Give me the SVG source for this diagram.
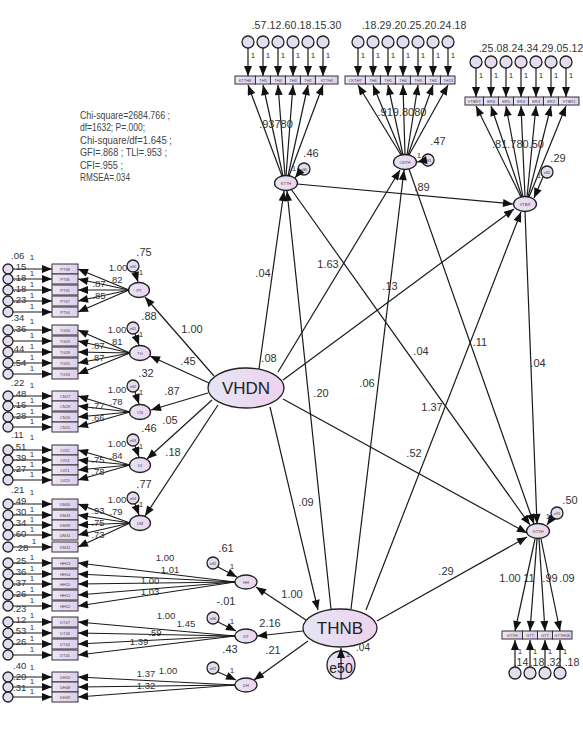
<svg xmlns="http://www.w3.org/2000/svg" width="583" height="732" viewBox="0 0 583 732">
<defs>
<marker id="a" viewBox="0 0 10 8" refX="10" refY="4" markerWidth="11" markerHeight="8" markerUnits="userSpaceOnUse" orient="auto"><path d="M0,0L10,4L0,8z" fill="#111"/></marker>
<linearGradient id="g" x1="0" x2="1"><stop offset="0" stop-color="#e4e6f4"/><stop offset="1" stop-color="#eed2ef"/></linearGradient>
<linearGradient id="b" x1="0" x2="1"><stop offset="0" stop-color="#eee8f7"/><stop offset="1" stop-color="#dccdee"/></linearGradient>
</defs>
<style>
.l{stroke:#1a1a1a;stroke-width:1.2;fill:none;marker-end:url(#a)}
.bx{fill:url(#b);stroke:#333;stroke-width:1}
.lv{fill:url(#g);stroke:#222;stroke-width:1.3}
.er{fill:#e4dcef;stroke:#222;stroke-width:1.3}
text{font-family:"Liberation Sans",Arial,sans-serif;fill:#333}
.t{font-size:11px;text-anchor:middle}
.u{font-size:9.5px;text-anchor:middle}
.v{font-size:9.5px}
.s{font-size:8px;text-anchor:middle}
.x{font-size:4px;text-anchor:middle;fill:#444}
.st{font-size:11.5px;fill:#444}
.big{font-size:17px;text-anchor:middle;fill:#222}
</style>
<rect width="583" height="732" fill="#fff"/>

<g id="stats">
<text class="st" x="80" y="119" textLength="90" lengthAdjust="spacingAndGlyphs">Chi-square=2684.766 ;</text>
<text class="st" x="80" y="131" textLength="65" lengthAdjust="spacingAndGlyphs">df=1632; P=.000;</text>
<text class="st" x="80" y="144" textLength="92" lengthAdjust="spacingAndGlyphs">Chi-square/df=1.645 ;</text>
<text class="st" x="80" y="156" textLength="87" lengthAdjust="spacingAndGlyphs">GFI=.868 ; TLI=.953 ;</text>
<text class="st" x="80" y="169" textLength="43" lengthAdjust="spacingAndGlyphs">CFI=.955 ;</text>
<text class="st" x="80" y="181" textLength="50" lengthAdjust="spacingAndGlyphs">RMSEA=.034</text>
</g>

<!-- left indicators -->
<g id="PT38"><circle class="er" cx="8" cy="269" r="5"/><rect class="bx" x="52" y="264" width="26" height="10"/><text class="x" x="65" y="270.5">PT38</text></g>
<g id="PT36"><circle class="er" cx="8" cy="279" r="5"/><rect class="bx" x="52" y="274" width="26" height="10"/><text class="x" x="65" y="280.5">PT36</text></g>
<g id="PT35"><circle class="er" cx="8" cy="290" r="5"/><rect class="bx" x="52" y="285" width="26" height="10"/><text class="x" x="65" y="291.5">PT35</text></g>
<g id="PT37"><circle class="er" cx="8" cy="301" r="5"/><rect class="bx" x="52" y="296" width="26" height="10"/><text class="x" x="65" y="302.5">PT37</text></g>
<g id="PT34"><circle class="er" cx="8" cy="312" r="5"/><rect class="bx" x="52" y="307" width="26" height="10"/><text class="x" x="65" y="313.5">PT34</text></g>
<g id="TG30"><circle class="er" cx="8" cy="330" r="5"/><rect class="bx" x="52" y="325" width="26" height="10"/><text class="x" x="65" y="331.5">TG30</text></g>
<g id="TG29"><circle class="er" cx="8" cy="341" r="5"/><rect class="bx" x="52" y="336" width="26" height="10"/><text class="x" x="65" y="342.5">TG29</text></g>
<g id="TG28"><circle class="er" cx="8" cy="352" r="5"/><rect class="bx" x="52" y="347" width="26" height="10"/><text class="x" x="65" y="353.5">TG28</text></g>
<g id="TG31"><circle class="er" cx="8" cy="363" r="5"/><rect class="bx" x="52" y="358" width="26" height="10"/><text class="x" x="65" y="364.5">TG31</text></g>
<g id="TG33"><circle class="er" cx="8" cy="374" r="5"/><rect class="bx" x="52" y="369" width="26" height="10"/><text class="x" x="65" y="375.5">TG33</text></g>
<g id="CN27"><circle class="er" cx="8" cy="396" r="5"/><rect class="bx" x="52" y="391" width="26" height="10"/><text class="x" x="65" y="397.5">CN27</text></g>
<g id="CN28"><circle class="er" cx="8" cy="406" r="5"/><rect class="bx" x="52" y="401" width="26" height="10"/><text class="x" x="65" y="407.5">CN28</text></g>
<g id="CN26"><circle class="er" cx="8" cy="417" r="5"/><rect class="bx" x="52" y="412" width="26" height="10"/><text class="x" x="65" y="418.5">CN26</text></g>
<g id="CN25"><circle class="er" cx="8" cy="427" r="5"/><rect class="bx" x="52" y="422" width="26" height="10"/><text class="x" x="65" y="428.5">CN25</text></g>
<g id="LV22"><circle class="er" cx="8" cy="450" r="5"/><rect class="bx" x="52" y="445" width="26" height="10"/><text class="x" x="65" y="451.5">LV22</text></g>
<g id="LV24"><circle class="er" cx="8" cy="460" r="5"/><rect class="bx" x="52" y="455" width="26" height="10"/><text class="x" x="65" y="461.5">LV24</text></g>
<g id="LV21"><circle class="er" cx="8" cy="470" r="5"/><rect class="bx" x="52" y="465" width="26" height="10"/><text class="x" x="65" y="471.5">LV21</text></g>
<g id="LV23"><circle class="er" cx="8" cy="480" r="5"/><rect class="bx" x="52" y="475" width="26" height="10"/><text class="x" x="65" y="481.5">LV23</text></g>
<g id="DM40"><circle class="er" cx="8" cy="504" r="5"/><rect class="bx" x="52" y="499" width="26" height="10"/><text class="x" x="65" y="505.5">DM40</text></g>
<g id="DM43"><circle class="er" cx="8" cy="515" r="5"/><rect class="bx" x="52" y="510" width="26" height="10"/><text class="x" x="65" y="516.5">DM43</text></g>
<g id="DM39"><circle class="er" cx="8" cy="525" r="5"/><rect class="bx" x="52" y="520" width="26" height="10"/><text class="x" x="65" y="526.5">DM39</text></g>
<g id="DM41"><circle class="er" cx="8" cy="535" r="5"/><rect class="bx" x="52" y="530" width="26" height="10"/><text class="x" x="65" y="536.5">DM41</text></g>
<g id="DM42"><circle class="er" cx="8" cy="547" r="5"/><rect class="bx" x="52" y="542" width="26" height="10"/><text class="x" x="65" y="548.5">DM42</text></g>
<g id="HH53"><circle class="er" cx="8" cy="563" r="5"/><rect class="bx" x="52" y="558" width="26" height="10"/><text class="x" x="65" y="564.5">HH53</text></g>
<g id="HH54"><circle class="er" cx="8" cy="574" r="5"/><rect class="bx" x="52" y="569" width="26" height="10"/><text class="x" x="65" y="575.5">HH54</text></g>
<g id="HH55"><circle class="er" cx="8" cy="584" r="5"/><rect class="bx" x="52" y="579" width="26" height="10"/><text class="x" x="65" y="585.5">HH55</text></g>
<g id="HH51"><circle class="er" cx="8" cy="595" r="5"/><rect class="bx" x="52" y="590" width="26" height="10"/><text class="x" x="65" y="596.5">HH51</text></g>
<g id="HH52"><circle class="er" cx="8" cy="606" r="5"/><rect class="bx" x="52" y="601" width="26" height="10"/><text class="x" x="65" y="607.5">HH52</text></g>
<g id="DT47"><circle class="er" cx="8" cy="622" r="5"/><rect class="bx" x="52" y="617" width="26" height="10"/><text class="x" x="65" y="623.5">DT47</text></g>
<g id="DT46"><circle class="er" cx="8" cy="633" r="5"/><rect class="bx" x="52" y="628" width="26" height="10"/><text class="x" x="65" y="634.5">DT46</text></g>
<g id="DT44"><circle class="er" cx="8" cy="644" r="5"/><rect class="bx" x="52" y="639" width="26" height="10"/><text class="x" x="65" y="645.5">DT44</text></g>
<g id="DT45"><circle class="er" cx="8" cy="655" r="5"/><rect class="bx" x="52" y="650" width="26" height="10"/><text class="x" x="65" y="656.5">DT45</text></g>
<g id="DH50"><circle class="er" cx="8" cy="677" r="5"/><rect class="bx" x="52" y="672" width="26" height="10"/><text class="x" x="65" y="678.5">DH50</text></g>
<g id="DH48"><circle class="er" cx="8" cy="687" r="5"/><rect class="bx" x="52" y="682" width="26" height="10"/><text class="x" x="65" y="688.5">DH48</text></g>
<g id="DH49"><circle class="er" cx="8" cy="697" r="5"/><rect class="bx" x="52" y="692" width="26" height="10"/><text class="x" x="65" y="698.5">DH49</text></g>

<!-- top indicators -->
<g id="KTTH-items">
<circle class="er" cx="248" cy="42" r="6"/><circle class="er" cx="263" cy="42" r="6"/><circle class="er" cx="278" cy="42" r="6"/><circle class="er" cx="293" cy="42" r="6"/><circle class="er" cx="308" cy="42" r="6"/><circle class="er" cx="323" cy="42" r="6"/>
<rect class="bx" x="235" y="76" width="20.5" height="8"/><rect class="bx" x="255.5" y="76" width="15" height="8"/><rect class="bx" x="270.5" y="76" width="15" height="8"/><rect class="bx" x="285.5" y="76" width="15" height="8"/><rect class="bx" x="300.5" y="76" width="15" height="8"/><rect class="bx" x="315.5" y="76" width="22.5" height="8"/>
<text class="x" x="245" y="81.5">KTTH6</text><text class="x" x="263" y="81.5">TH5</text><text class="x" x="278" y="81.5">TH4</text><text class="x" x="293" y="81.5">TH3</text><text class="x" x="308" y="81.5">TH2</text><text class="x" x="327" y="81.5">KTTH1</text>
</g>
<g id="CKTH-items">
<circle class="er" cx="358" cy="42" r="6"/><circle class="er" cx="373" cy="42" r="6"/><circle class="er" cx="388" cy="42" r="6"/><circle class="er" cx="403" cy="42" r="6"/><circle class="er" cx="418" cy="42" r="6"/><circle class="er" cx="433" cy="42" r="6"/><circle class="er" cx="448" cy="42" r="6"/>
<rect class="bx" x="345" y="76" width="20.5" height="8"/><rect class="bx" x="365.5" y="76" width="15" height="8"/><rect class="bx" x="380.5" y="76" width="15" height="8"/><rect class="bx" x="395.5" y="76" width="15" height="8"/><rect class="bx" x="410.5" y="76" width="15" height="8"/><rect class="bx" x="425.5" y="76" width="15" height="8"/><rect class="bx" x="440.5" y="76" width="14.5" height="8"/>
<text class="x" x="355" y="81.5">CKTH7</text><text class="x" x="373" y="81.5">TH6</text><text class="x" x="388" y="81.5">TH5</text><text class="x" x="403" y="81.5">TH4</text><text class="x" x="418" y="81.5">TH3</text><text class="x" x="433" y="81.5">TH2</text><text class="x" x="448" y="81.5">TH13</text>
</g>
<g id="VTBR-items">
<circle class="er" cx="476" cy="62" r="6"/><circle class="er" cx="491" cy="62" r="6"/><circle class="er" cx="506" cy="62" r="6"/><circle class="er" cx="521" cy="62" r="6"/><circle class="er" cx="536" cy="62" r="6"/><circle class="er" cx="551" cy="62" r="6"/><circle class="er" cx="566" cy="62" r="6"/>
<rect class="bx" x="465" y="97" width="18.5" height="8"/><rect class="bx" x="483.5" y="97" width="15" height="8"/><rect class="bx" x="498.5" y="97" width="15" height="8"/><rect class="bx" x="513.5" y="97" width="15" height="8"/><rect class="bx" x="528.5" y="97" width="15" height="8"/><rect class="bx" x="543.5" y="97" width="15" height="8"/><rect class="bx" x="558.5" y="97" width="20.5" height="8"/>
<text class="x" x="474" y="102.5">VTBR7</text><text class="x" x="491" y="102.5">BR6</text><text class="x" x="506" y="102.5">BR5</text><text class="x" x="521" y="102.5">BR4</text><text class="x" x="536" y="102.5">BR3</text><text class="x" x="551" y="102.5">BR2</text><text class="x" x="569" y="102.5">VTBR1</text>
</g>
<g id="GTTH-items">
<circle class="er" cx="515" cy="673" r="6"/><circle class="er" cx="530" cy="673" r="6"/><circle class="er" cx="545" cy="673" r="6"/><circle class="er" cx="560" cy="673" r="6"/>
<rect class="bx" x="502" y="631" width="20.5" height="8"/><rect class="bx" x="522.5" y="631" width="15" height="8"/><rect class="bx" x="537.5" y="631" width="15" height="8"/><rect class="bx" x="552.5" y="631" width="19.5" height="8"/>
<text class="x" x="512" y="636.5">GTTH</text><text class="x" x="530" y="636.5">GTT</text><text class="x" x="545" y="636.5">GTT</text><text class="x" x="562" y="636.5">GTTH58</text>
</g>

<!-- latent factors -->
<g id="PT"><ellipse class="lv" cx="139" cy="290" rx="10.5" ry="7.5"/><text class="x" x="139" y="291.5">PT</text></g>
<g id="TG"><ellipse class="lv" cx="140" cy="353" rx="10.5" ry="7.5"/><text class="x" x="140" y="354.5">TG</text></g>
<g id="CN"><ellipse class="lv" cx="140" cy="412" rx="10.5" ry="7.5"/><text class="x" x="140" y="413.5">CN</text></g>
<g id="LV"><ellipse class="lv" cx="140" cy="465" rx="10.5" ry="7.5"/><text class="x" x="140" y="466.5">LV</text></g>
<g id="DM"><ellipse class="lv" cx="140" cy="523" rx="10.5" ry="7.5"/><text class="x" x="140" y="524.5">DM</text></g>
<g id="HH"><ellipse class="lv" cx="246" cy="582" rx="11" ry="7"/><text class="x" x="246" y="583.5">HH</text></g>
<g id="DT"><ellipse class="lv" cx="246" cy="636" rx="11" ry="7"/><text class="x" x="246" y="637.5">DT</text></g>
<g id="DH"><ellipse class="lv" cx="246" cy="685" rx="11" ry="7"/><text class="x" x="246" y="686.5">DH</text></g>
<g id="KTTH"><ellipse class="lv" cx="286" cy="183" rx="11.5" ry="7.5"/><text class="x" x="286" y="184.5">KTTH</text></g>
<g id="CKTH"><ellipse class="lv" cx="405" cy="162" rx="11.5" ry="7.5"/><text class="x" x="405" y="163.5">CKTH</text></g>
<g id="VTBR"><ellipse class="lv" cx="525" cy="204" rx="11.5" ry="7.5"/><text class="x" x="525" y="205.5">VTBR</text></g>
<g id="GTTH"><ellipse class="lv" cx="538" cy="531" rx="11.5" ry="7.5"/><text class="x" x="538" y="532.5">GTTH</text></g>
<g id="VHDN"><ellipse class="lv" cx="246" cy="388" rx="38" ry="20"/><text class="big" x="246" y="394">VHDN</text></g>
<g id="THNB"><ellipse class="lv" cx="340" cy="628" rx="37" ry="19"/><text class="big" x="340" y="634">THNB</text></g>
<g id="e50"><circle class="lv" cx="341" cy="665" r="14"/><text x="341" y="673" style="font-size:14px;text-anchor:middle;fill:#222">e50</text></g>

<!-- disturbance circles -->
<g id="e60"><circle class="er" cx="133" cy="266" r="6"/><text class="x" x="133" y="267.5">e60</text></g>
<g id="e61"><circle class="er" cx="133" cy="328" r="6"/><text class="x" x="133" y="329.5">e61</text></g>
<g id="e62"><circle class="er" cx="133" cy="386" r="6"/><text class="x" x="133" y="387.5">e62</text></g>
<g id="e63"><circle class="er" cx="133" cy="440" r="6"/><text class="x" x="133" y="441.5">e63</text></g>
<g id="e64"><circle class="er" cx="133" cy="498" r="6"/><text class="x" x="133" y="499.5">e64</text></g>
<g id="e65"><circle class="er" cx="213" cy="563" r="6"/><text class="x" x="213" y="564.5">e65</text></g>
<g id="e66"><circle class="er" cx="213" cy="618" r="6"/><text class="x" x="213" y="619.5">e66</text></g>
<g id="e67"><circle class="er" cx="213" cy="668" r="6"/><text class="x" x="213" y="669.5">e67</text></g>
<g id="e80"><circle class="er" cx="304" cy="169" r="6"/><text class="x" x="304" y="170.5">e80</text></g>
<g id="e81"><circle class="er" cx="428" cy="160" r="6"/><text class="x" x="428" y="161.5">e81</text></g>
<g id="e82"><circle class="er" cx="547" cy="172" r="6"/><text class="x" x="547" y="173.5">e82</text></g>
<g id="e91"><circle class="er" cx="557" cy="513" r="6"/><text class="x" x="557" y="514.5">e91</text></g>

<g id="connectors">
<path class="l" d="M13 269H52"/><path class="l" d="M13 279H52"/><path class="l" d="M13 290H52"/><path class="l" d="M13 301H52"/><path class="l" d="M13 312H52"/>
<path class="l" d="M13 330H52"/><path class="l" d="M13 341H52"/><path class="l" d="M13 352H52"/><path class="l" d="M13 363H52"/><path class="l" d="M13 374H52"/>
<path class="l" d="M13 396H52"/><path class="l" d="M13 406H52"/><path class="l" d="M13 417H52"/><path class="l" d="M13 427H52"/>
<path class="l" d="M13 450H52"/><path class="l" d="M13 460H52"/><path class="l" d="M13 470H52"/><path class="l" d="M13 480H52"/>
<path class="l" d="M13 504H52"/><path class="l" d="M13 515H52"/><path class="l" d="M13 525H52"/><path class="l" d="M13 535H52"/><path class="l" d="M13 547H52"/>
<path class="l" d="M13 563H52"/><path class="l" d="M13 574H52"/><path class="l" d="M13 584H52"/><path class="l" d="M13 595H52"/><path class="l" d="M13 606H52"/>
<path class="l" d="M13 622H52"/><path class="l" d="M13 633H52"/><path class="l" d="M13 644H52"/><path class="l" d="M13 655H52"/>
<path class="l" d="M13 677H52"/><path class="l" d="M13 687H52"/><path class="l" d="M13 697H52"/>
<path class="l" d="M129 290L78 269"/><path class="l" d="M129 290L78 279"/><path class="l" d="M129 290L78 290"/><path class="l" d="M129 290L78 301"/><path class="l" d="M129 290L78 312"/>
<path class="l" d="M130 353L78 330"/><path class="l" d="M130 353L78 341"/><path class="l" d="M130 353L78 352"/><path class="l" d="M130 353L78 363"/><path class="l" d="M130 353L78 374"/>
<path class="l" d="M130 412L78 396"/><path class="l" d="M130 412L78 406"/><path class="l" d="M130 412L78 417"/><path class="l" d="M130 412L78 427"/>
<path class="l" d="M130 465L78 450"/><path class="l" d="M130 465L78 460"/><path class="l" d="M130 465L78 470"/><path class="l" d="M130 465L78 480"/>
<path class="l" d="M130 523L78 504"/><path class="l" d="M130 523L78 515"/><path class="l" d="M130 523L78 525"/><path class="l" d="M130 523L78 535"/><path class="l" d="M130 523L78 547"/>
<path class="l" d="M235 582L78 563"/><path class="l" d="M235 582L78 574"/><path class="l" d="M235 582L78 584"/><path class="l" d="M235 582L78 595"/><path class="l" d="M235 582L78 606"/>
<path class="l" d="M235 636L78 622"/><path class="l" d="M235 636L78 633"/><path class="l" d="M235 636L78 644"/><path class="l" d="M235 636L78 655"/>
<path class="l" d="M235 685L78 677"/><path class="l" d="M235 685L78 687"/><path class="l" d="M235 685L78 697"/>
<path class="l" d="M135 272L138 282"/><path class="l" d="M135 334L139 345"/><path class="l" d="M135 392L139 404"/><path class="l" d="M135 446L139 457"/><path class="l" d="M135 504L139 515"/>
<path class="l" d="M218 567L237 577"/><path class="l" d="M218 622L236 631"/><path class="l" d="M218 672L236 680"/>
<path class="l" d="M248 48V76"/><path class="l" d="M263 48V76"/><path class="l" d="M278 48V76"/><path class="l" d="M293 48V76"/><path class="l" d="M308 48V76"/><path class="l" d="M323 48V76"/>
<path class="l" d="M358 48V76"/><path class="l" d="M373 48V76"/><path class="l" d="M388 48V76"/><path class="l" d="M403 48V76"/><path class="l" d="M418 48V76"/><path class="l" d="M433 48V76"/><path class="l" d="M448 48V76"/>
<path class="l" d="M476 68V97"/><path class="l" d="M491 68V97"/><path class="l" d="M506 68V97"/><path class="l" d="M521 68V97"/><path class="l" d="M536 68V97"/><path class="l" d="M551 68V97"/><path class="l" d="M566 68V97"/>
<path class="l" d="M515 667V640"/><path class="l" d="M530 667V640"/><path class="l" d="M545 667V640"/><path class="l" d="M560 667V640"/>
<path class="l" d="M282 176L248 85"/><path class="l" d="M283 176L263 85"/><path class="l" d="M285 176L278 85"/><path class="l" d="M286 176L293 85"/><path class="l" d="M288 176L308 85"/><path class="l" d="M289 176L323 85"/>
<path class="l" d="M401 155L358 85"/><path class="l" d="M402 155L373 85"/><path class="l" d="M403 155L388 85"/><path class="l" d="M405 155L403 85"/><path class="l" d="M407 155L418 85"/><path class="l" d="M408 155L433 85"/><path class="l" d="M409 155L448 85"/>
<path class="l" d="M521 197L476 106"/><path class="l" d="M522 197L491 106"/><path class="l" d="M523 197L506 106"/><path class="l" d="M525 197L521 106"/><path class="l" d="M527 197L536 106"/><path class="l" d="M528 197L551 106"/><path class="l" d="M529 197L566 106"/>
<path class="l" d="M535 539L515 631"/><path class="l" d="M537 539L530 631"/><path class="l" d="M539 539L545 631"/><path class="l" d="M541 539L560 631"/>
<path class="l" d="M299 173L295 178"/><path class="l" d="M422 161L417 162"/><path class="l" d="M543 177L534 198"/><path class="l" d="M552 518L547 525"/>
<path class="l" d="M214 376L145 297"/>
<path class="l" d="M209 383L150 356"/>
<path class="l" d="M208 393L151 410"/>
<path class="l" d="M212 400L147 459"/>
<path class="l" d="M218 405L145 516"/>
<path class="l" d="M259 369L284 191"/>
<path class="l" d="M331 609L287 191"/>
<path class="l" d="M278 372L400 170"/>
<path class="l" d="M351 609L404 170"/>
<path class="l" d="M283 380L514 209"/>
<path class="l" d="M366 610L521 212"/>
<path class="l" d="M283 399L527 533"/>
<path class="l" d="M377 621L527 537"/>
<path class="l" d="M270 407L318 610"/>
<path class="l" d="M297 184L513 204"/>
<path class="l" d="M291 189L530 525"/>
<path class="l" d="M409 169L534 524"/>
<path class="l" d="M525 211L537 524"/>
<path class="l" d="M306 620L256 587"/>
<path class="l" d="M303 631L257 636"/>
<path class="l" d="M308 641L254 680"/>
<path class="l" d="M341 679L341 648"/>
</g>

<g id="labels">
<g class="v">
<text x="11" y="259">.06</text><text x="13" y="270">.15</text><text x="13" y="281">.18</text><text x="13" y="292">.18</text><text x="13" y="303">.23</text><text x="11" y="321">.34</text>
<text x="13" y="332">.36</text><text x="11" y="352">.44</text><text x="13" y="366">.54</text>
<text x="11" y="386">.22</text><text x="13" y="397">.48</text><text x="13" y="408">.16</text><text x="13" y="419">.28</text>
<text x="11" y="438">.11</text><text x="13" y="450">.51</text><text x="13" y="461">.39</text><text x="13" y="472">.27</text>
<text x="11" y="493">.21</text><text x="13" y="504">.49</text><text x="13" y="515">.30</text><text x="13" y="526">.34</text><text x="13" y="537">.60</text><text x="15" y="551">.28</text>
<text x="13" y="564">.25</text><text x="13" y="575">.36</text><text x="13" y="586">.37</text><text x="13" y="597">.26</text><text x="13" y="612">.23</text>
<text x="13" y="623">.12</text><text x="13" y="634">.53</text><text x="13" y="645">.26</text>
<text x="13" y="669">.40</text><text x="13" y="680">.20</text><text x="13" y="691">.31</text>
</g>
<g class="s">
<text x="32" y="260">1</text><text x="32" y="276">1</text><text x="32" y="287">1</text><text x="32" y="298">1</text><text x="32" y="309">1</text>
<text x="32" y="324">1</text><text x="32" y="338">1</text><text x="32" y="349">1</text><text x="32" y="360">1</text><text x="32" y="371">1</text>
<text x="32" y="388">1</text><text x="32" y="403">1</text><text x="32" y="414">1</text><text x="32" y="424">1</text>
<text x="32" y="440">1</text><text x="32" y="457">1</text><text x="32" y="467">1</text><text x="32" y="477">1</text>
<text x="32" y="495">1</text><text x="32" y="512">1</text><text x="32" y="522">1</text><text x="32" y="532">1</text><text x="34" y="544">1</text>
<text x="32" y="560">1</text><text x="32" y="571">1</text><text x="32" y="581">1</text><text x="32" y="592">1</text><text x="32" y="603">1</text>
<text x="32" y="618">1</text><text x="32" y="630">1</text><text x="32" y="641">1</text><text x="32" y="652">1</text>
<text x="32" y="670">1</text><text x="32" y="684">1</text><text x="32" y="694">1</text>
</g>
<g class="t">
<text x="144" y="256">.75</text><text x="149" y="320">.88</text><text x="146" y="377">.32</text><text x="149" y="432">.46</text><text x="144" y="488">.77</text>
<text x="226" y="552">.61</text><text x="226" y="605">-.01</text><text x="230" y="653">.43</text>
</g>
<g class="u">
<text x="118" y="271">1.00</text><text x="116" y="283">.82</text><text x="99" y="287">.87</text><text x="99" y="299">.85</text>
<text x="117" y="333">1.00</text><text x="116" y="345">.81</text><text x="98" y="349">.87</text><text x="98" y="361">.87</text>
<text x="117" y="393">1.00</text><text x="116" y="405">.78</text><text x="98" y="409">.77</text><text x="98" y="421">.66</text>
<text x="117" y="447">1.00</text><text x="116" y="459">.84</text><text x="98" y="463">.75</text><text x="98" y="475">.78</text>
<text x="117" y="503">1.00</text><text x="116" y="515">.79</text><text x="98" y="514">.93</text><text x="98" y="526">.75</text><text x="98" y="538">.73</text>
<text x="165" y="561">1.00</text><text x="170" y="573">1.01</text><text x="150" y="584">1.00</text><text x="150" y="595">1.03</text>
<text x="166" y="619">1.00</text><text x="186" y="627">1.45</text><text x="155" y="636">.59</text><text x="139" y="645">1.39</text>
<text x="168" y="674">1.00</text><text x="146" y="677">1.37</text><text x="146" y="689">1.32</text>
</g>
<g class="s">
<text x="141" y="275">1</text><text x="141" y="337">1</text><text x="141" y="395">1</text><text x="141" y="449">1</text><text x="141" y="507">1</text>
<text x="232" y="569">1</text><text x="232" y="624">1</text><text x="232" y="673">1</text>
</g>
<g class="v" style="text-anchor:middle;font-size:10.5px">
<text x="259" y="29">.57</text><text x="274" y="29">.12</text><text x="289" y="29">.60</text><text x="304" y="29">.18</text><text x="319" y="29">.15</text><text x="334" y="29">.30</text>
<text x="369" y="29">.18</text><text x="384" y="29">.29</text><text x="399" y="29">.20</text><text x="414" y="29">.25</text><text x="429" y="29">.20</text><text x="444" y="29">.24</text><text x="459" y="29">.18</text>
<text x="486" y="52">.25</text><text x="501" y="52">.08</text><text x="516" y="52">.24</text><text x="531" y="52">.34</text><text x="546" y="52">.29</text><text x="561" y="52">.05</text><text x="576" y="52">.12</text>
<text x="521" y="666">.14</text><text x="537" y="666">.18</text><text x="554" y="666">.32</text><text x="572" y="666">.18</text>
</g>
<g class="s">
<text x="253" y="58">1</text><text x="268" y="58">1</text><text x="283" y="58">1</text><text x="298" y="58">1</text><text x="313" y="58">1</text><text x="328" y="58">1</text>
<text x="363" y="58">1</text><text x="378" y="58">1</text><text x="393" y="58">1</text><text x="408" y="58">1</text><text x="423" y="58">1</text><text x="438" y="58">1</text><text x="453" y="58">1</text>
<text x="481" y="78">1</text><text x="496" y="78">1</text><text x="511" y="78">1</text><text x="526" y="78">1</text><text x="541" y="78">1</text><text x="556" y="78">1</text><text x="571" y="78">1</text>
<text x="520" y="654">1</text><text x="535" y="654">1</text><text x="550" y="654">1</text><text x="565" y="654">1</text>
<text x="294" y="171">1</text><text x="419" y="158">1</text><text x="539" y="178">1</text><text x="548" y="519">1</text><text x="348" y="657">1</text>
</g>
<g class="t">
<text x="276" y="128">.93780</text>
<text x="402" y="116">.919.8080</text>
<text x="518" y="148">.81.780.50</text>
<text x="311" y="157">.46</text>
<text x="438" y="145">.47</text>
<text x="558" y="162">.29</text>
<text x="570" y="504">.50</text>
<text x="510" y="582">1.00</text><text x="529" y="582">11</text><text x="550" y="582">.99</text><text x="567" y="582">.09</text>
<text x="192" y="333">1.00</text>
<text x="188" y="365">.45</text>
<text x="172" y="395">.87</text>
<text x="170" y="424">.05</text>
<text x="173" y="456">.18</text>
<text x="263" y="277">.04</text>
<text x="269" y="362">.08</text>
<text x="328" y="268">1.63</text>
<text x="390" y="290">.13</text>
<text x="422" y="191">.89</text>
<text x="321" y="397">.20</text>
<text x="367" y="387">.06</text>
<text x="421" y="355">.04</text>
<text x="480" y="346">.11</text>
<text x="538" y="367">.04</text>
<text x="432" y="411">1.37</text>
<text x="414" y="457">.52</text>
<text x="306" y="506">.09</text>
<text x="446" y="575">.29</text>
<text x="292" y="598">1.00</text>
<text x="270" y="627">2.16</text>
<text x="273" y="654">.21</text>
<text x="363" y="651" style="font-size:10px">.04</text>
</g>
</g>
</svg>
